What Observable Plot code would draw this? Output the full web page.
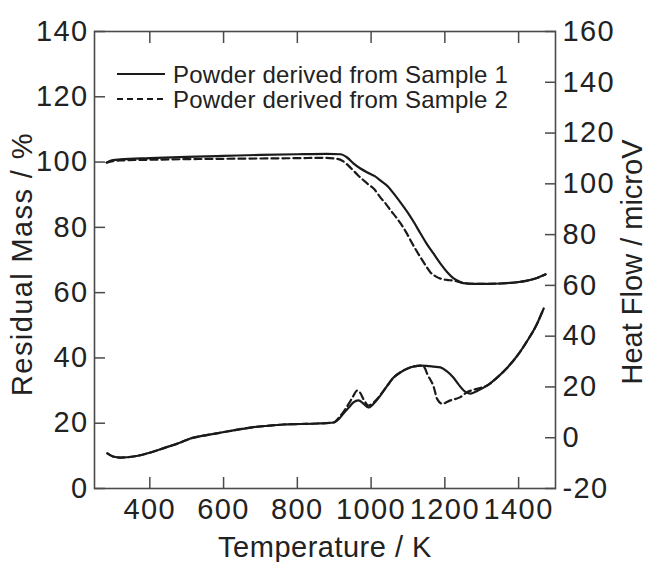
<!DOCTYPE html>
<html><head><meta charset="utf-8">
<script src="https://cdn.jsdelivr.net/npm/d3@7"></script>
<script src="https://cdn.jsdelivr.net/npm/@observablehq/plot@0.6"></script>
<style>
body{margin:0;background:#fff}
#chart svg{font-family:"Liberation Sans",Arial,Helvetica,sans-serif}
#chart svg g[aria-label$="tick label"] text{letter-spacing:1.4px}
</style>
</head><body><div id="chart"></div><script>
// ---------- data ----------
const seriesNames = ["Powder derived from Sample 1", "Powder derived from Sample 2"];
const xTicks = [400, 600, 800, 1000, 1200, 1400];
const leftTicks = [0, 20, 40, 60, 80, 100, 120, 140];
const rightTicks = [-20, 0, 20, 40, 60, 80, 100, 120, 140, 160];

// Residual mass (left axis, %)
const tMass1 = [283, 300, 320, 400, 500, 600, 700, 800, 880, 917, 935, 952, 970, 990, 1010, 1025, 1045, 1061, 1080, 1099, 1117, 1134, 1150, 1169, 1188, 1207, 1222, 1234, 1250, 1280, 1320, 1351, 1390, 1424, 1450, 1473];
const mass1 = [99.9, 100.6, 100.8, 101.2, 101.6, 101.9, 102.2, 102.4, 102.5, 102.4, 101.4, 99.6, 98.1, 96.8, 95.7, 94.4, 92.6, 90.4, 87.6, 84.6, 81.4, 78.1, 75.1, 72.0, 68.9, 66.2, 64.5, 63.7, 62.9, 62.7, 62.7, 62.8, 63.1, 63.7, 64.5, 65.6];
const tMass2 = [283, 300, 320, 400, 500, 600, 700, 800, 870, 909, 925, 944, 965, 990, 1010, 1025, 1040, 1053, 1067, 1080, 1094, 1107, 1120, 1134, 1148, 1161, 1175, 1188, 1205, 1223, 1245, 1261, 1290, 1320, 1351, 1390, 1424, 1450, 1473];
const mass2 = [99.8, 100.3, 100.5, 100.7, 100.9, 101.0, 101.1, 101.2, 101.3, 101.0, 100.2, 98.3, 95.9, 93.4, 91.5, 89.2, 87.2, 85.2, 83.2, 81.2, 78.7, 76.0, 73.4, 70.8, 68.3, 66.2, 65.0, 64.3, 63.9, 63.7, 63.1, 62.8, 62.7, 62.7, 62.8, 63.1, 63.7, 64.5, 65.6];

// Heat flow (right axis, microV)
const tHeat1 = [285, 300, 320, 360, 402, 440, 483, 510, 550, 592, 630, 673, 720, 762, 809, 855, 898, 912, 925, 940, 952, 966, 980, 993, 1008, 1025, 1043, 1061, 1080, 1099, 1117, 1134, 1150, 1170, 1188, 1205, 1223, 1237, 1251, 1262, 1270, 1290, 1315, 1340, 1370, 1400, 1424, 1447, 1468];
const heat1 = [-6.2, -7.4, -7.8, -7.3, -5.8, -4.0, -1.9, -0.3, 0.9, 2.0, 3.0, 4.0, 4.7, 5.2, 5.4, 5.6, 6.0, 7.3, 9.5, 12.0, 13.9, 14.7, 13.3, 11.9, 13.6, 16.6, 20.3, 23.7, 25.8, 27.3, 28.1, 28.4, 28.3, 28.0, 27.7, 26.2, 23.7, 21.0, 18.6, 17.6, 17.4, 18.6, 20.6, 23.5, 27.7, 33.0, 38.3, 44.0, 50.9];
const tHeat2 = [285, 300, 320, 360, 402, 440, 483, 510, 550, 592, 630, 673, 720, 762, 809, 855, 898, 912, 925, 940, 952, 962, 970, 980, 993, 1008, 1025, 1043, 1061, 1080, 1099, 1117, 1134, 1145, 1152, 1170, 1179, 1193, 1215, 1242, 1260, 1278, 1296, 1315, 1340, 1370, 1400, 1424, 1447, 1468];
const heat2 = [-6.2, -7.4, -7.8, -7.3, -5.8, -4.0, -1.9, -0.3, 0.9, 2.0, 3.0, 4.0, 4.7, 5.2, 5.4, 5.6, 6.0, 7.8, 10.2, 13.5, 16.5, 18.6, 17.8, 15.0, 12.7, 14.0, 16.8, 20.3, 23.7, 25.8, 27.3, 28.1, 28.4, 27.6, 25.2, 19.9, 15.3, 13.4, 14.7, 16.0, 17.9, 18.9, 19.6, 20.6, 23.5, 27.7, 33.0, 38.3, 44.0, 50.9];

// ---------- build tables ----------
const toLeft = h => (h + 20) * 140 / 180;
const fromLeft = v => v * 180 / 140 - 20;
const rows = (ts, vs, s, conv = d => d) => ts.map((t, i) => ({t, v: conv(vs[i]), s}));
const massRows = [...rows(tMass1, mass1, 0), ...rows(tMass2, mass2, 1)];
const heatRows = [...rows(tHeat1, heat1, 0, toLeft), ...rows(tHeat2, heat2, 1, toLeft)];

const ink = "#1a1a1a";
const axisInk = "#4a4a4a";
const dash = "7,4";

const chart = Plot.plot({
  width: 647,
  height: 562,
  marginLeft: 94,
  marginRight: 92,
  marginTop: 31,
  marginBottom: 74,
  style: {fontFamily: '"Liberation Sans", Arial, sans-serif', fontSize: "29px", color: "#222", background: "#fff"},
  x: {domain: [250, 1500]},
  y: {domain: [0, 140]},
  marks: [
    Plot.axisX({anchor: "bottom", ticks: xTicks, tickSize: -11, tickPadding: 21, tickFormat: d => String(d), label: null, stroke: axisInk, strokeWidth: 1.5}),
    Plot.axisX({anchor: "top", ticks: xTicks, tickSize: -11, tickFormat: () => "", label: null, stroke: axisInk, strokeWidth: 1.5}),
    Plot.axisY({anchor: "left", ticks: leftTicks, tickSize: -11, tickPadding: 17, tickFormat: d => String(d), label: null, stroke: axisInk, strokeWidth: 1.5}),
    Plot.axisY({anchor: "right", ticks: rightTicks.map(toLeft), tickSize: -11, tickPadding: 18, tickFormat: v => String(Math.round(fromLeft(v))), label: null, stroke: axisInk, strokeWidth: 1.5}),
    Plot.frame({stroke: axisInk, strokeWidth: 1.6}),
    Plot.line(massRows.filter(d => d.s === 0), {x: "t", y: "v", stroke: ink, strokeWidth: 2.2, curve: "monotone-x"}),
    Plot.line(massRows.filter(d => d.s === 1), {x: "t", y: "v", stroke: ink, strokeWidth: 2.2, strokeDasharray: dash, curve: "monotone-x"}),
    Plot.line(heatRows.filter(d => d.s === 0), {x: "t", y: "v", stroke: ink, strokeWidth: 2.2, curve: "monotone-x"}),
    Plot.line(heatRows.filter(d => d.s === 1), {x: "t", y: "v", stroke: ink, strokeWidth: 2.2, strokeDasharray: dash, curve: "monotone-x"}),
    Plot.text(["Temperature / K"], {frameAnchor: "bottom", dy: 59, fontSize: 29, fill: "#222", lineAnchor: "middle", textAnchor: "middle"}),
    Plot.text(["Residual Mass / %"], {frameAnchor: "left", dx: -72, dy: 4, rotate: -90, fontSize: 29, fill: "#222", lineAnchor: "middle", textAnchor: "middle"}),
    Plot.text(["Heat Flow / microV"], {frameAnchor: "right", dx: 77, dy: 2, rotate: -90, fontSize: 29, fill: "#222", lineAnchor: "middle", textAnchor: "middle"})
  ]
});
document.getElementById("chart").appendChild(chart);

// letter spacing for the axis titles (slightly wider lettering in the reference)
d3.select(chart).selectAll("text").filter(function() { return /Residual|Temperature/.test(this.textContent); })
  .style("letter-spacing", function() { return /Residual/.test(this.textContent) ? "1.4px" : "0.5px"; });

// ---------- legend (inside the frame, top-left) ----------
const svg = d3.select(chart);
const lg = svg.append("g").attr("font-family", '"Liberation Sans", Arial, sans-serif').attr("font-size", 24).attr("fill", "#222").attr("text-anchor", "start");
seriesNames.forEach((name, i) => {
  const y = 74 + i * 25;
  lg.append("line").attr("x1", 117).attr("x2", 165).attr("y1", y).attr("y2", y)
    .attr("stroke", ink).attr("stroke-width", 2.2).attr("stroke-dasharray", i === 1 ? "6,4" : null);
  lg.append("text").attr("x", 173).attr("y", y + 9).attr("text-anchor", "start").style("letter-spacing", "0.2px").text(name);
});
</script></body></html>
